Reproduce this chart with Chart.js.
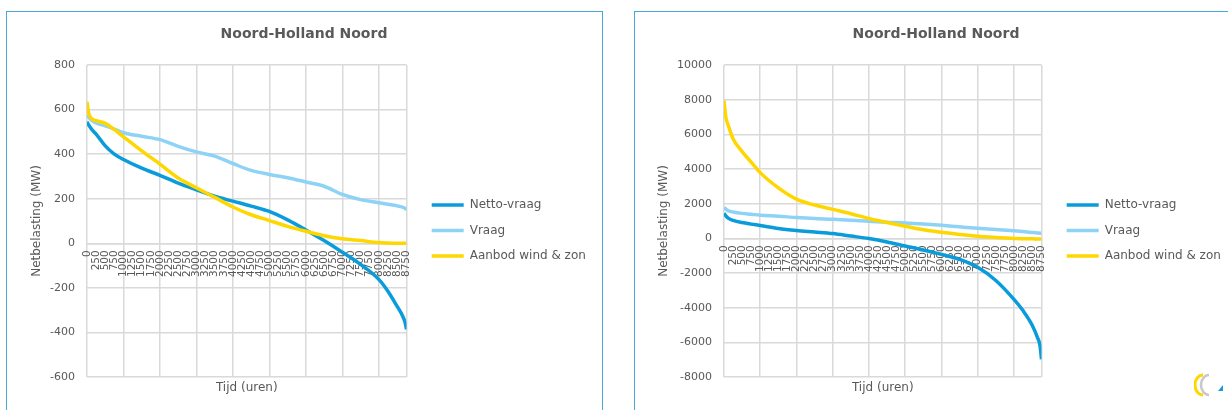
<!DOCTYPE html>
<html>
<head>
<meta charset="utf-8">
<title>Noord-Holland Noord</title>
<script src="https://cdn.jsdelivr.net/npm/chart.js@4.4.0/dist/chart.umd.min.js"></script>
<style>
  html, body { margin: 0; padding: 0; background: #fff; overflow: hidden; width: 1228px; height: 410px; }
  .frame { position: absolute; top: 11px; height: 420px; border: 1px solid #4aa8d8; box-sizing: border-box; overflow: hidden; }
  #frameNow { left: 6px; width: 597px; }
  #frameFuture { left: 634px; width: 700px; }
  .frame canvas { position: absolute; top: 0; left: 0; }
  #logo { position: absolute; left: 1194px; top: 372px; }
</style>
</head>
<body>
<div class="frame" id="frameNow"><canvas id="chartNow" width="594" height="398"></canvas></div>
<div class="frame" id="frameFuture"><canvas id="chartFuture" width="602" height="398"></canvas></div>
<svg id="logo" width="34" height="26" viewBox="0 0 34 26">
  <path d="M9 3 A8 10 0 0 0 9 23" fill="none" stroke="#ffd700" stroke-width="3"/>
  <path d="M15 3 A8 10 0 0 0 15 23" fill="none" stroke="#c8c8c8" stroke-width="2.5"/>
  <path d="M24 19 L29 13 L29 19 Z" fill="#1a9ad6"/>
</svg>
<script>
// hours of the year (duration curve, sorted high to low)
const hours = [0, 50, 125, 250, 500, 750, 1000, 1500, 2000, 2500, 3000, 3500, 4000, 4500, 5000, 5500, 6000, 6500, 7000, 7500, 8000, 8250, 8500, 8650, 8720, 8760];
const xTickLabels = [0, 250, 500, 750, 1000, 1250, 1500, 1750, 2000, 2250, 2500, 2750, 3000, 3250, 3500, 3750, 4000, 4250, 4500, 4750, 5000, 5250, 5500, 5750, 6000, 6250, 6500, 6750, 7000, 7250, 7500, 7750, 8000, 8250, 8500, 8750];
const seriesNames = ['Netto-vraag', 'Vraag', 'Aanbod wind & zon'];
const seriesColors = ['#0a9cda', '#8ed3f6', '#ffd700'];

// left chart (MW)
const nowNetto = [545, 530, 512, 490, 437, 400, 376, 337, 305, 270, 240, 211, 189, 167, 143, 105, 60, 12, -40, -95, -162, -215, -282, -325, -355, -386];
const nowVraag = [575, 565, 553, 540, 527, 512, 496, 480, 465, 435, 410, 391, 358, 327, 309, 294, 275, 256, 219, 196, 182, 175, 168, 162, 157, 150];
const nowAanbod = [635, 582, 560, 550, 538, 510, 478, 415, 355, 293, 249, 206, 163, 128, 102, 76, 54, 34, 20, 12, 3, 1, 0, 0, 0, 0];
const nowYTicks = [-600, -400, -200, 0, 200, 400, 600, 800];

// right chart (MW)
const futNetto = [1450, 1300, 1150, 1040, 910, 820, 740, 565, 450, 365, 275, 130, -15, -208, -442, -670, -928, -1210, -1670, -2430, -3520, -4170, -5000, -5730, -6200, -6980];
const futVraag = [1780, 1680, 1590, 1520, 1440, 1390, 1335, 1278, 1200, 1140, 1103, 1050, 987, 930, 890, 830, 754, 665, 580, 510, 435, 390, 340, 310, 298, 290];
const futAanbod = [7950, 7000, 6470, 5750, 5000, 4400, 3790, 2910, 2260, 1920, 1670, 1420, 1145, 915, 698, 495, 348, 222, 115, 48, -5, -20, -30, -35, -38, -39];
const futYTicks = [-8000, -6000, -4000, -2000, 0, 2000, 4000, 6000, 8000, 10000];

const TEXT = '#595959';
const GRID = '#d9d9d9';
Chart.defaults.font.family = "'DejaVu Sans', Verdana, sans-serif";
Chart.defaults.color = TEXT;

// puts the legend next to the plot, where the original has it
const legendPin = {
    id: 'legendPin',
    afterLayout(chart, args, opts) {
        const lg = chart.legend;
        if (!lg) return;
        const pad = lg.options.labels.padding;
        const dx = opts.x - pad - lg.left;
        const dy = opts.y - opts.fontSize / 2 - pad - lg.top;
        lg.left += dx; lg.right += dx;
        lg.top += dy; lg.bottom += dy;
    }
};

function makeChart(id, series, yTicks, geo) {
    const drawOrder = [1, 2, 0]; // wind & zon on top
    const datasets = series.map((vals, i) => ({
        label: seriesNames[i],
        data: hours.map((h, k) => ({ x: h, y: vals[k] })),
        borderColor: seriesColors[i],
        backgroundColor: seriesColors[i],
        borderWidth: 3.5,
        pointRadius: 0,
        fill: false,
        cubicInterpolationMode: 'monotone',
        order: drawOrder[i],
        xAxisID: 'x',
        yAxisID: 'y'
    }));

    return new Chart(document.getElementById(id), {
        type: 'line',
        data: { datasets },
        plugins: [legendPin],
        options: {
            responsive: false,
            animation: false,
            devicePixelRatio: 1,
            layout: { padding: { left: 0, top: 0, right: 0, bottom: 14.6 } },
            scales: {
                x: {
                    type: 'linear',
                    min: 0,
                    max: 8760,
                    position: { y: 0 },
                    afterBuildTicks: s => { s.ticks = xTickLabels.concat([8760]).map(v => ({ value: v })); },
                    ticks: {
                        autoSkip: false, minRotation: 90, maxRotation: 90, padding: 7,
                        font: { size: 10.5 }, color: TEXT,
                        callback: v => v === 8760 ? '' : String(v)
                    },
                    grid: {
                        color: c => (c.tick && (c.tick.value % 1000 === 0 || c.tick.value === 8760)) ? GRID : 'rgba(0,0,0,0)',
                        lineWidth: 1.5,
                        drawTicks: false
                    },
                    border: { color: GRID, width: 1.5 }
                },
                xt: {
                    type: 'linear',
                    position: 'bottom',
                    display: true,
                    ticks: { display: false },
                    grid: { display: false, drawTicks: false },
                    border: { display: false },
                    title: { display: true, text: 'Tijd (uren)', font: { size: 12 }, color: TEXT, padding: { top: 4, bottom: 0 } }
                },
                y: {
                    min: yTicks[0],
                    max: yTicks[yTicks.length - 1],
                    ticks: { stepSize: yTicks[1] - yTicks[0], padding: 12, font: { size: 11 }, color: TEXT, callback: v => String(v) },
                    grid: { color: GRID, lineWidth: 1.5, drawTicks: false },
                    border: { display: false },
                    title: { display: true, text: 'Netbelasting (MW)', font: { size: 12 }, color: TEXT, padding: { top: geo.yTitlePad, bottom: 0 } },
                    afterFit: s => { s.width = geo.left; }
                },
                // empty right-hand strip that holds the legend
                yr: {
                    type: 'linear',
                    position: 'right',
                    display: true,
                    ticks: { display: false },
                    grid: { display: false, drawTicks: false },
                    border: { display: false },
                    afterFit: s => { s.width = geo.padRight; }
                }
            },
            plugins: {
                title: {
                    display: true,
                    text: 'Noord-Holland Noord',
                    font: { size: 14, weight: 'bold' },
                    color: TEXT,
                    padding: { top: 13.9, bottom: 22.3 }
                },
                legend: {
                    position: 'chartArea',
                    align: 'start',
                    labels: {
                        usePointStyle: true,
                        pointStyle: 'line',
                        pointStyleWidth: 32,
                        padding: 13.5,
                        font: { size: 12 },
                        color: TEXT,
                        sort: (a, b) => a.datasetIndex - b.datasetIndex
                    }
                },
                legendPin: { x: geo.legendX, y: 193, fontSize: 12 },
                tooltip: { enabled: false }
            }
        }
    });
}

window.chartNow = makeChart('chartNow', [nowNetto, nowVraag, nowAanbod], nowYTicks,
    { left: 80, padRight: 194.5, yTitlePad: 22.2, legendX: 424.7 });
window.chartFuture = makeChart('chartFuture', [futNetto, futVraag, futAanbod], futYTicks,
    { left: 89, padRight: 195.5, yTitlePad: 21.6, legendX: 431.7 });
</script>
</body>
</html>
